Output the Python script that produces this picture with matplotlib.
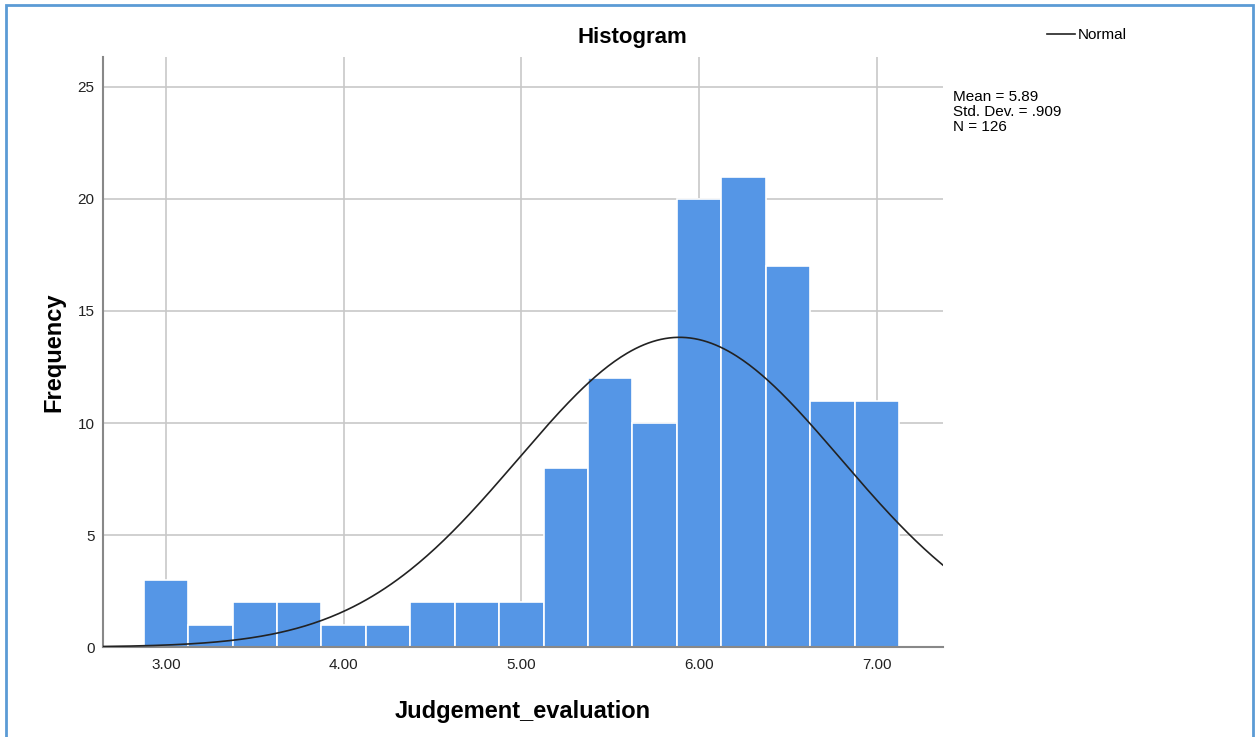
import matplotlib.pyplot as plt
import numpy as np
from matplotlib.patches import Rectangle

plt.rcParams['font.family'] = ['Liberation Sans', 'DejaVu Sans']

# bin centres (bin width .25) and counts
bin_centres = [3.00, 3.25, 3.50, 3.75, 4.00, 4.25, 4.50, 4.75, 5.00,
               5.25, 5.50, 5.75, 6.00, 6.25, 6.50, 6.75, 7.00]
counts = [3, 1, 2, 2, 1, 1, 2, 2, 2, 8, 12, 10, 20, 21, 17, 11, 11]
bin_width = 0.25

mean = 5.89
std_dev = 0.909
n_cases = 126

x_ticks = [3.0, 4.0, 5.0, 6.0, 7.0]
y_ticks = [0, 5, 10, 15, 20, 25]

fig = plt.figure(figsize=(12.57, 7.37), dpi=100)
ax = fig.add_axes([0.0819, 0.1221, 0.6683, 0.8006])

ax.bar(bin_centres, counts, width=bin_width, color='#5596e6',
       edgecolor='white', linewidth=1.2, zorder=2)

# fitted normal curve scaled to the counts
xs = np.linspace(2.645, 7.373, 400)
ys = n_cases * bin_width / (std_dev * np.sqrt(2 * np.pi)) * \
    np.exp(-0.5 * ((xs - mean) / std_dev) ** 2)
ax.plot(xs, ys, color='#222222', linewidth=1.2, zorder=3)

ax.set_xlim(2.645, 7.373)
ax.set_ylim(0, 26.34)
ax.set_xticks(x_ticks)
ax.set_xticklabels([f'{t:.2f}' for t in x_ticks])
ax.set_yticks(y_ticks)
ax.tick_params(length=0, labelsize=11, colors='#222222', pad=8)
ax.tick_params(axis='y', pad=6)
ax.grid(True, color='#c8c8c8', linewidth=1.2, zorder=0)
ax.set_axisbelow(True)

for side in ('top', 'right'):
    ax.spines[side].set_visible(False)
for side in ('left', 'bottom'):
    ax.spines[side].set_color('#888888')
    ax.spines[side].set_linewidth(1.5)

ax.set_xlabel('Judgement_evaluation', fontsize=17, fontweight='bold', labelpad=20)
ax.set_ylabel('Frequency', fontsize=17, fontweight='bold', labelpad=9)

fig.text(0.503, 1 - 38 / 737, 'Histogram', ha='center', va='center',
         fontsize=16, fontweight='bold')

# legend entry
fig.add_artist(plt.Line2D([1047 / 1257, 1075 / 1257], [1 - 34 / 737, 1 - 34 / 737],
                          color='#222222', linewidth=1.2))
fig.text(1078 / 1257, 1 - 35 / 737, 'Normal', ha='left', va='center', fontsize=11)

fig.text(953 / 1257, 1 - 112 / 737,
         f'Mean = {mean:.2f}\nStd. Dev. = .{int(round(std_dev * 1000))}\nN = {n_cases}',
         ha='left', va='center', fontsize=11, linespacing=1.1)

# outer frame
fig.add_artist(Rectangle((6 / 1257, -0.01), (1253 - 6) / 1257, 1 - 5 / 737 + 0.01,
                         transform=fig.transFigure, fill=False,
                         edgecolor='#5b9bd5', linewidth=2))

fig.savefig('out.png', dpi=100)
